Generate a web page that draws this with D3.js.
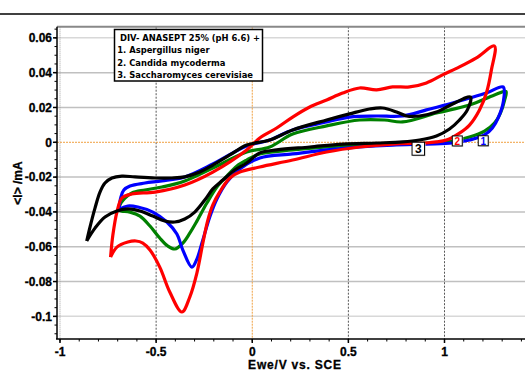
<!DOCTYPE html>
<html lang="en">
  <head>
    <meta charset="UTF-8" />
    <title>DIV- ANASEPT 25% cyclic voltammograms</title>
    <script src="https://d3js.org/d3.v7.min.js"></script>
    <style>
      html, body {
        margin: 0;
        padding: 0;
        background: #fff;
      }
      body {
        font-family: 'Liberation Sans', Arial, sans-serif;
      }
      .tick-label, .axis-label {
        font-size: 12px;
        font-weight: bold;
        stroke: #000;
        stroke-width: 0.3px;
      }
      .legend-text {
        font-family: 'DejaVu Sans', Verdana, sans-serif;
        font-size: 8.4px;
        font-weight: bold;
      }
    </style>
  </head>
  <body>
    <svg width="525" height="372"></svg>

    <script>
      // [E (V vs SCE), I (mA)], closed loops
      const aspergillus = [
        [-0.694, -0.0383], [-0.683, -0.0314], [-0.668, -0.0274], [-0.636, -0.0251],
        [-0.558, -0.0234], [-0.47, -0.0222], [-0.351, -0.0199], [-0.205, -0.0125],
        [-0.029, -0.0021], [0.091, 0.0013], [0.21, 0.0071], [0.387, 0.0117],
        [0.506, 0.0145], [0.647, 0.0151], [0.782, 0.0151], [0.906, 0.0186],
        [1.042, 0.0226], [1.218, 0.0283], [1.305, 0.0318],
        [1.306, 0.0233], [1.281, 0.0145], [1.249, 0.0082], [1.208, 0.0042],
        [1.13, 0.0013], [1.042, -0.0004], [0.906, -0.001], [0.73, -0.0016],
        [0.558, -0.0027], [0.387, -0.0044], [0.21, -0.0067], [0.039, -0.009],
        [-0.065, -0.0154], [-0.132, -0.0228], [-0.184, -0.0326], [-0.221, -0.0429],
        [-0.257, -0.0561], [-0.288, -0.0671], [-0.314, -0.0717], [-0.361, -0.0619],
        [-0.392, -0.0527], [-0.444, -0.0458], [-0.517, -0.0401], [-0.595, -0.0372],
        [-0.647, -0.0366], [-0.678, -0.0378], [-0.694, -0.0383],
      ];

      const candida = [
        [-0.737, -0.066], [-0.725, -0.0533], [-0.704, -0.0401], [-0.678, -0.032],
        [-0.626, -0.0297], [-0.506, -0.0286], [-0.351, -0.0245], [-0.205, -0.0171],
        [-0.029, -0.0044], [0.039, 0.0025], [0.127, 0.0082], [0.21, 0.0145],
        [0.299, 0.0203], [0.387, 0.0243], [0.47, 0.0283], [0.558, 0.0312],
        [0.647, 0.0301], [0.73, 0.0318], [0.818, 0.0318], [0.906, 0.0341],
        [0.99, 0.0387], [1.078, 0.0433], [1.166, 0.0485], [1.26, 0.0553],
        [1.244, 0.0416], [1.218, 0.0283], [1.182, 0.0186], [1.13, 0.0099],
        [1.078, 0.0053], [1.01, 0.0013], [0.958, 0.0002], [0.906, -0.0004],
        [0.73, -0.001], [0.558, -0.0027], [0.387, -0.0056], [0.21, -0.0102],
        [0.039, -0.0142], [-0.065, -0.0171], [-0.117, -0.0205], [-0.169, -0.0285],
        [-0.205, -0.036], [-0.231, -0.0447], [-0.257, -0.0579], [-0.288, -0.0751],
        [-0.325, -0.0889], [-0.366, -0.0975], [-0.429, -0.086], [-0.481, -0.0717],
        [-0.532, -0.0619], [-0.569, -0.0579], [-0.605, -0.0567], [-0.647, -0.0573],
        [-0.704, -0.0602], [-0.737, -0.066],
      ];

      const greenRun = [
        [-0.699, -0.039], [-0.683, -0.0349], [-0.662, -0.032], [-0.626, -0.0291],
        [-0.558, -0.0274], [-0.47, -0.0257], [-0.351, -0.0222], [-0.205, -0.0148],
        [-0.029, -0.0056], [0.091, -0.0027], [0.21, 0.0047], [0.387, 0.0094],
        [0.558, 0.0128], [0.688, 0.0128], [0.782, 0.0117], [0.958, 0.0168],
        [1.13, 0.0214], [1.26, 0.0272], [1.32, 0.0292],
        [1.312, 0.024], [1.291, 0.0168], [1.26, 0.011], [1.208, 0.0064],
        [1.13, 0.003], [1.042, 0.0007], [0.906, -0.0004], [0.73, -0.001],
        [0.558, -0.0016], [0.387, -0.0027], [0.21, -0.0044], [0.039, -0.0067],
        [-0.029, -0.0102], [-0.081, -0.0137], [-0.132, -0.0194], [-0.184, -0.0257],
        [-0.236, -0.0349], [-0.288, -0.0453], [-0.325, -0.0522], [-0.361, -0.0579],
        [-0.403, -0.0613], [-0.439, -0.0596], [-0.481, -0.055], [-0.532, -0.0481],
        [-0.584, -0.0424], [-0.636, -0.0401], [-0.678, -0.0395], [-0.699, -0.039],
      ];

      const saccharomyces = [
        [-0.861, -0.0567], [-0.844, -0.0487], [-0.818, -0.0378], [-0.792, -0.0286],
        [-0.766, -0.0234], [-0.73, -0.0205], [-0.678, -0.0194], [-0.61, -0.0199],
        [-0.506, -0.0205], [-0.418, -0.0205], [-0.351, -0.0199], [-0.273, -0.0171],
        [-0.205, -0.0131], [-0.117, -0.0073], [-0.029, -0.0016], [0.091, 0.0013],
        [0.21, 0.0071], [0.387, 0.0128], [0.506, 0.0163], [0.61, 0.0191],
        [0.678, 0.0197], [0.751, 0.0174], [0.803, 0.0151], [0.87, 0.0151],
        [0.958, 0.0174], [1.042, 0.022], [1.135, 0.026],
        [1.119, 0.0186], [1.078, 0.0128], [1.026, 0.0076], [0.958, 0.0036],
        [0.87, 0.0013], [0.782, 0.0002], [0.647, -0.0004], [0.47, -0.001],
        [0.299, -0.0027], [0.127, -0.0044], [0.039, -0.0061], [-0.029, -0.0119],
        [-0.091, -0.0159], [-0.153, -0.0217], [-0.205, -0.0268], [-0.247, -0.0332],
        [-0.299, -0.0401], [-0.351, -0.0441], [-0.403, -0.0458], [-0.455, -0.0452],
        [-0.517, -0.0424], [-0.584, -0.0395], [-0.647, -0.0383], [-0.704, -0.0395],
        [-0.766, -0.0429], [-0.818, -0.0493], [-0.861, -0.0567],
      ];

      const series = [
        { name: 'green', values: greenRun, color: '#008000' },
        { name: '1', values: aspergillus, color: '#0000ff' },
        { name: '2', values: candida, color: '#ff0000' },
        { name: '3', values: saccharomyces, color: '#000000' },
      ];

      const xMajor = [-1, -0.5, 0, 0.5, 1];
      const xMajorLabels = ['-1', '-0.5', '0', '0.5', '1'];
      const yMajor = [0.06, 0.04, 0.02, 0, -0.02, -0.04, -0.06, -0.08, -0.1];
      const yMajorLabels = ['0.06', '0.04', '0.02', '0', '-0.02', '-0.04', '-0.06', '-0.08', '-0.1'];

      const legendLines = [
        'DIV- ANASEPT 25% (pH 6.6) +',
        '1. Aspergillus niger',
        '2. Candida mycoderma',
        '3. Saccharomyces cerevisiae',
      ];

      // curve tags: [label, E, I, colour, big]
      const tags = [
        ['3', 0.865, -0.0037, '#000', true],
        ['2', 1.068, 0.0006, '#ff0000', false],
        ['1', 1.203, 0.0007, '#0000ff', false],
      ];

      const svg = d3.select('svg');
      const W = 525;
      const plotTop = 26.7, plotBottom = 339;

      const x = d3.scaleLinear().domain([-1, 1]).range([60, 444.5]);
      const y = d3.scaleLinear().domain([-0.113, 0.0664]).range([plotBottom, plotTop]);

      // top rule of figure
      svg.append('line')
        .attr('x1', 0).attr('x2', W).attr('y1', 14).attr('y2', 14)
        .attr('stroke', '#000').attr('stroke-width', 1.5);

      // horizontal grid
      svg.append('g').selectAll('line')
        .data(yMajor.filter((d) => d !== 0))
        .enter().append('line')
        .attr('x1', 57).attr('x2', W)
        .attr('y1', (d) => y(d)).attr('y2', (d) => y(d))
        .attr('stroke', (d) => (d === -0.1 || d === 0.06 ? '#d8d8d8' : '#c0c0c0'))
        .attr('stroke-width', 1.5);

      // vertical dashed grid
      svg.append('g').selectAll('line')
        .data([-1, -0.5, 0.5, 1])
        .enter().append('line')
        .attr('x1', (d) => x(d)).attr('x2', (d) => x(d))
        .attr('y1', plotTop).attr('y2', plotBottom)
        .attr('stroke', (d) => (d === -1 ? '#999' : '#444'))
        .attr('stroke-width', 0.9)
        .attr('stroke-dasharray', (d) => (d === -1 ? '1,1' : '2,1.5'));

      // zero lines (orange)
      svg.append('line')
        .attr('x1', x(0)).attr('x2', x(0)).attr('y1', plotTop).attr('y2', plotBottom)
        .attr('stroke', '#f0a040').attr('stroke-width', 1).attr('stroke-dasharray', '2,1');
      svg.append('line')
        .attr('x1', 57).attr('x2', W).attr('y1', y(0)).attr('y2', y(0))
        .attr('stroke', '#f0a040').attr('stroke-width', 1).attr('stroke-dasharray', '2,1');

      // frame: top border
      svg.append('line')
        .attr('x1', 57).attr('x2', W).attr('y1', plotTop).attr('y2', plotTop)
        .attr('stroke', '#888').attr('stroke-width', 2);

      // curves
      const line = d3.line()
        .x((d) => x(d[0]))
        .y((d) => y(d[1]))
        .curve(d3.curveCatmullRom.alpha(0.5));

      svg.append('g').selectAll('path')
        .data(series)
        .enter().append('path')
        .attr('d', (d) => line(d.values))
        .attr('fill', 'none')
        .attr('stroke', (d) => d.color)
        .attr('stroke-width', 3.2)
        .attr('stroke-linejoin', 'round');

      // axes
      const yAxis = svg.append('g');
      yAxis.append('line')
        .attr('x1', 57).attr('x2', 57).attr('y1', plotTop).attr('y2', plotBottom)
        .attr('stroke', '#000').attr('stroke-width', 1.5);
      const yMinor = d3.range(-0.11, 0.0651, 0.005);
      yAxis.selectAll('.minor')
        .data(yMinor)
        .enter().append('line')
        .attr('x1', 54.5).attr('x2', 57)
        .attr('y1', (d) => y(d)).attr('y2', (d) => y(d))
        .attr('stroke', '#000').attr('stroke-width', 1);
      yAxis.selectAll('.major')
        .data(yMajor)
        .enter().append('line')
        .attr('x1', 53).attr('x2', 57)
        .attr('y1', (d) => y(d)).attr('y2', (d) => y(d))
        .attr('stroke', '#000').attr('stroke-width', 1.5);
      yAxis.selectAll('text')
        .data(yMajor)
        .enter().append('text')
        .attr('class', 'tick-label')
        .attr('x', 52)
        .attr('y', (d) => y(d) + 4.3)
        .attr('text-anchor', 'end')
        .text((d, i) => yMajorLabels[i]);

      const xAxis = svg.append('g');
      xAxis.append('line')
        .attr('x1', 56).attr('x2', W).attr('y1', plotBottom).attr('y2', plotBottom)
        .attr('stroke', '#000').attr('stroke-width', 1.5);
      const xMinor = d3.range(-1, 1.45, 0.1);
      xAxis.selectAll('.minor')
        .data(xMinor)
        .enter().append('line')
        .attr('x1', (d) => x(d)).attr('x2', (d) => x(d))
        .attr('y1', plotBottom).attr('y2', plotBottom + 2.5)
        .attr('stroke', '#000').attr('stroke-width', 1);
      xAxis.selectAll('.major')
        .data(xMajor)
        .enter().append('line')
        .attr('x1', (d) => x(d)).attr('x2', (d) => x(d))
        .attr('y1', plotBottom).attr('y2', plotBottom + 4)
        .attr('stroke', '#000').attr('stroke-width', 1.5);
      xAxis.selectAll('text')
        .data(xMajor)
        .enter().append('text')
        .attr('class', 'tick-label')
        .attr('x', (d) => x(d))
        .attr('y', 355.5)
        .attr('text-anchor', 'middle')
        .text((d, i) => xMajorLabels[i]);

      svg.append('text')
        .attr('class', 'axis-label')
        .attr('x', 295)
        .attr('y', 368.5)
        .attr('text-anchor', 'middle')
        .style('letter-spacing', '0.8px')
        .text('Ewe/V vs. SCE');

      svg.append('text')
        .attr('class', 'axis-label')
        .attr('transform', 'translate(22,183) rotate(-90)')
        .attr('text-anchor', 'middle')
        .text('<I> /mA');

      // legend box
      const lg = svg.append('g');
      lg.append('rect')
        .attr('x', 114.5).attr('y', 29.5).attr('width', 148).attr('height', 51.5)
        .attr('fill', '#fff').attr('stroke', '#000').attr('stroke-width', 1.5);
      lg.selectAll('text')
        .data(legendLines)
        .enter().append('text')
        .attr('class', 'legend-text')
        .attr('x', (d, i) => (i === 0 ? 120 : 117.3))
        .attr('y', (d, i) => 40.8 + i * 12.4)
        .text((d) => d);

      // curve tags
      const tg = svg.append('g').selectAll('g')
        .data(tags)
        .enter().append('g')
        .attr('transform', (d) => `translate(${x(d[1])},${y(d[2])})`);
      tg.append('rect')
        .attr('x', (d) => (d[4] ? -5.5 : -4.3))
        .attr('y', (d) => (d[4] ? -5.5 : -4.3))
        .attr('width', (d) => (d[4] ? 12.5 : 10))
        .attr('height', (d) => (d[4] ? 13 : 10))
        .attr('fill', '#ccc');
      tg.append('rect')
        .attr('x', (d) => (d[4] ? -6.5 : -5.3))
        .attr('y', (d) => (d[4] ? -6.5 : -5.3))
        .attr('width', (d) => (d[4] ? 12.5 : 10))
        .attr('height', (d) => (d[4] ? 13 : 10))
        .attr('fill', '#fff').attr('stroke', '#000').attr('stroke-width', 1);
      tg.append('text')
        .attr('x', -0.3)
        .attr('y', (d) => (d[4] ? 4.5 : 3.6))
        .attr('text-anchor', 'middle')
        .attr('font-size', (d) => (d[4] ? 12 : 10))
        .attr('font-weight', 'bold')
        .attr('fill', (d) => d[3])
        .text((d) => d[0]);
    </script>
  </body>
</html>
